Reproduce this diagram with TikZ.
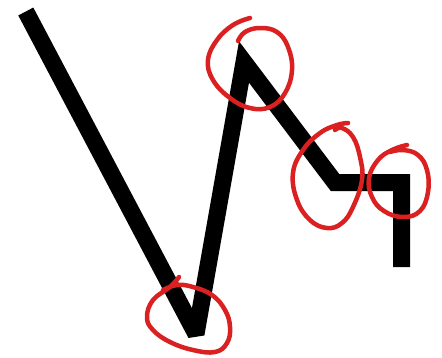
\documentclass[tikz,border=0pt]{standalone}
\definecolor{markred}{RGB}{218,32,32}
\tikzset{
  zigzag/.style={line width=17pt, line join=miter, miter limit=2.8, line cap=butt, black},
  ring/.style={line width=4.5pt, markred, line cap=round, line join=round}
}
\begin{document}
\begin{tikzpicture}[x=1pt,y=-1pt]
\fill[white] (0,0) rectangle (442,357);
\useasboundingbox (0,0) rectangle (442,357);
\coordinate (p0) at (25.8,11.5);
\coordinate (p1) at (196,334);
\coordinate (p2) at (244,62);
\coordinate (p3) at (335,182.5);
\coordinate (p4) at (401.5,182.5);
\coordinate (p5) at (401.5,267);
\draw[zigzag] (p0) -- (p1) -- (p2) -- (p3) -- (p4) -- (p5);
% hand-drawn red rings
\draw[ring] plot[smooth, tension=0.7] coordinates {(179,277) (170,287) (153,300) (147,317) (153,330) (170,342) (193,350) (215,352) (227,343) (230,327) (225,310) (212,295) (193,287) (177,285) (163,290)};
\draw[ring] plot[smooth, tension=0.7] coordinates {(250,18) (233,25) (217,40) (208,60) (213,80) (230,98) (250,108) (270,107) (285,93) (292,70) (288,47) (277,32) (260,28) (245,32) (238,41)};
\draw[ring] plot[smooth, tension=0.7] coordinates {(348,123) (337,125) (320,133) (303,150) (293,173) (297,200) (310,220) (327,228) (342,223) (353,207) (362,180) (360,157) (353,137) (342,128) (335,130)};
\draw[ring] plot[smooth, tension=0.7] coordinates {(407,145) (392,150) (378,160) (369,178) (372,197) (384,211) (403,217) (420,211) (428,192) (427,170) (418,155) (403,150) (390,152)};
\end{tikzpicture}
\end{document}
